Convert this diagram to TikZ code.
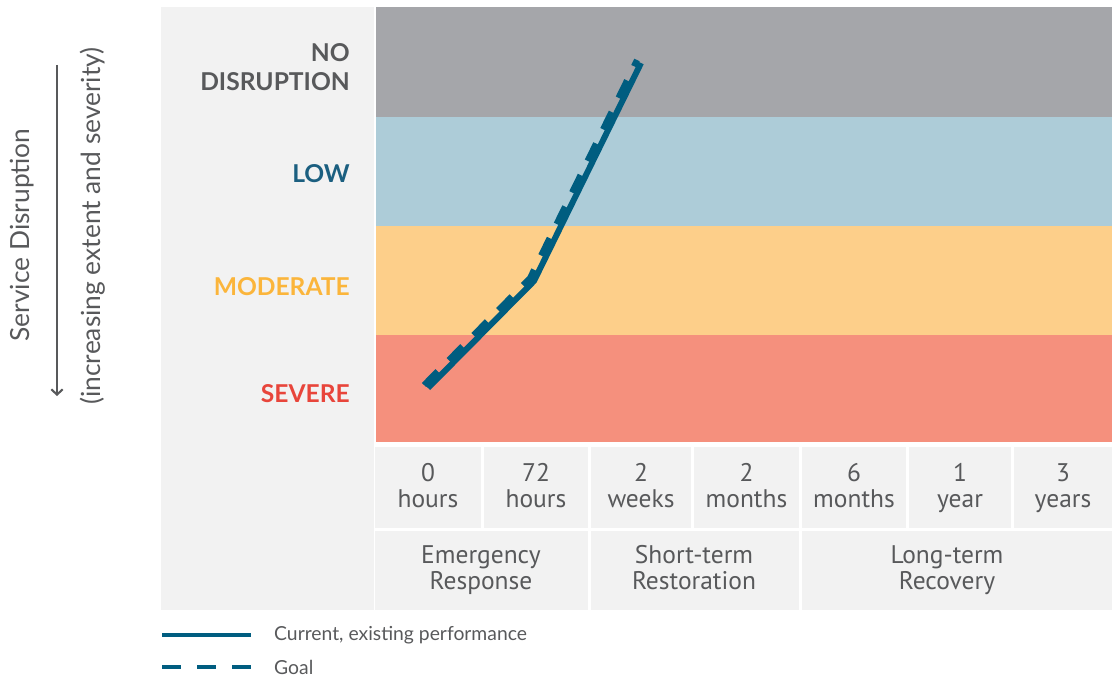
\documentclass[tikz,border=0pt]{standalone}
\usepackage{fontspec}
\setmainfont{Lato}
\newfontfamily\cellfont{PT Sans}
\usetikzlibrary{arrows.meta}

\definecolor{panelgray}{HTML}{F2F2F2}
\definecolor{txtgray}{HTML}{58595B}
\definecolor{bandnone}{HTML}{A5A6AA}
\definecolor{bandlow}{HTML}{ADCCD8}
\definecolor{bandmod}{HTML}{FDCF8A}
\definecolor{bandsev}{HTML}{F5907D}
\definecolor{perf}{HTML}{005D80}
\definecolor{lowtxt}{HTML}{1B5F80}
\definecolor{modtxt}{HTML}{FBB53B}
\definecolor{sevtxt}{HTML}{E8453B}

\begin{document}
\begin{tikzpicture}[x=0.02cm,y=-0.02cm,
    level/.style={anchor=east,align=right,font=\fontsize{14}{16.5}\selectfont\bfseries},
    axislabel/.style={rotate=90,text=txtgray,font=\fontsize{15}{17}\selectfont},
    celltext/.style={anchor=north,inner sep=0pt,align=center,text=txtgray,font=\cellfont\fontsize{14.5}{15}\selectfont},
    legendtext/.style={anchor=west,text=txtgray,font=\fontsize{11}{13}\selectfont},
    current/.style={line width=3.4pt,draw=perf},
    goal/.style={line width=3.4pt,draw=perf,dash pattern=on 11pt off 9pt}]
  \useasboundingbox (0,0) rectangle (1112,679);

  % left panel and bands
  \fill[panelgray] (161,7) rectangle (374,610);
  \fill[bandnone] (376,7) rectangle (1112,117);
  \fill[bandlow] (376,117) rectangle (1112,226);
  \fill[bandmod] (376,226) rectangle (1112,335);
  \fill[bandsev] (376,335) rectangle (1112,442);

  % level labels
  \node[level,text=txtgray] (none) at (356,67) {NO\\DISRUPTION};
  \node[level,text=lowtxt] (low) at (356,174) {LOW};
  \node[level,text=modtxt] (mod) at (356,287) {MODERATE};
  \node[level,text=sevtxt] (sev) at (356,394) {SEVERE};

  % vertical axis
  \node[axislabel] (axis) at (22,235) {Service Disruption};
  \node[axislabel] (axisnote) at (93,226) {(increasing extent and severity)};
  \coordinate (atop) at (57,65);
  \coordinate (abot) at (57,396);
  \draw[txtgray,line width=1.2pt,-{Straight Barb[length=3pt,width=6.5pt]}] (atop) -- (abot);

  % time table
  \foreach \a/\b/\t [count=\i] in {375/481/{0\\hours},484/588/{72\\hours},591/691/{2\\weeks},
      694/799/{2\\months},802/906/{6\\months},909/1011/{1\\year},1014/1112/{3\\years}} {
    \fill[panelgray] (\a,447) rectangle (\b,528);
    \node[celltext] (t\i) at ({(\a+\b)/2},463) {\t};
  }
  \fill[panelgray] (375,531) rectangle (588,610);
  \fill[panelgray] (591,531) rectangle (799,610);
  \fill[panelgray] (802,531) rectangle (1112,610);
  \node[celltext] (emerg) at (481,545) {Emergency\\Response};
  \node[celltext] (short) at (694,545) {Short-term\\Restoration};
  \node[celltext] (long) at (947,545) {Long-term\\Recovery};

  % performance curves
  \coordinate (p0) at (428,388);
  \coordinate (p1) at (534,281);
  \coordinate (p2) at (641,63);
  \draw[goal] ([shift={(-4,-3)}]p0) -- ([shift={(-4,-3)}]p1) -- ([shift={(-4,-3)}]p2);
  \draw[current] (p0) -- (p1) -- (p2);

  % legend
  \coordinate (l0) at (162,635);
  \coordinate (l1) at (251,635);
  \coordinate (g0) at (162,667);
  \coordinate (g1) at (251,667);
  \draw[current,line width=2.8pt] (l0) -- (l1);
  \draw[goal,line width=2.8pt] (g0) -- (g1);
  \node[legendtext] (lcur) at (268,635) {Current, existing performance};
  \node[legendtext] (lgoal) at (268,667) {Goal};
\end{tikzpicture}
\end{document}
